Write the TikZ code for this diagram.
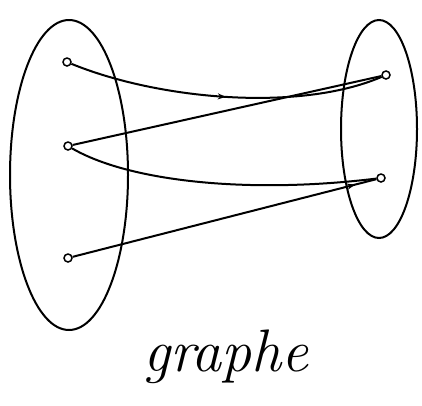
\documentclass[tikz,border=0pt]{standalone}
\usepackage{tikz}
\usetikzlibrary{arrows.meta,shapes.geometric,decorations.markings}
\tikzset{
  set/.style={draw, ellipse, line width=2pt, inner sep=0pt},
  pt/.style={draw, circle, line width=1.5pt, inner sep=0pt, minimum size=8pt},
  ln/.style={line width=2pt},
  midarr/.style={postaction={decorate}, decoration={markings, mark=at position #1 with {\arrow{Stealth[length=8pt,width=6pt]}}}},
  lbl/.style={font=\fontsize{60}{62}\selectfont\itshape}
}
\begin{document}
\begin{tikzpicture}[x=1pt, y=-1pt]
  \useasboundingbox (0,0) rectangle (422,405);
  % the two sets
  \node[set, minimum width=118pt, minimum height=310pt] (A) at (69,175) {};
  \node[set, minimum width=76pt, minimum height=218pt] (B) at (379,129) {};
  % elements
  \node[pt] (a1) at (67,62) {};
  \node[pt] (a2) at (68,146) {};
  \node[pt] (a3) at (68,258) {};
  \node[pt] (b1) at (386,75) {};
  \node[pt] (b2) at (381,178) {};
  % relation
  \draw[ln, midarr=0.5] (a1) .. controls (160,100) and (300,112) .. (b1);
  \draw[ln] (a2) -- (b1);
  \draw[ln] (a2) .. controls (130,182) and (250,194) .. (b2);
  \draw[ln, midarr=0.93] (a3) -- (b2);
  \node[lbl] (t) at (226,357) {graphe};
\end{tikzpicture}
\end{document}
